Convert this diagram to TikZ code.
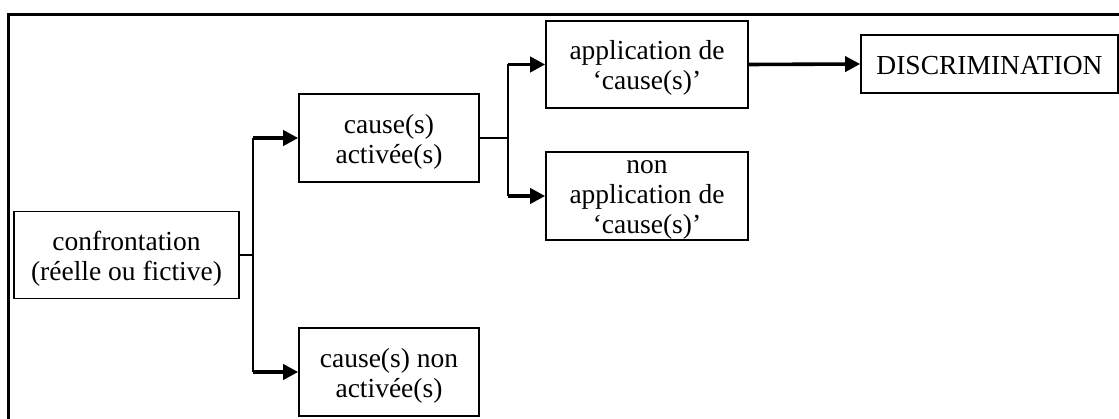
\documentclass[tikz,border=0pt]{standalone}
\usepackage{fontspec}
\setmainfont{Liberation Serif}
\usetikzlibrary{arrows.meta}
\begin{document}
\begin{tikzpicture}[x=1pt,y=-1pt,
  box/.style={draw,line width=1.6pt,inner sep=0pt,rectangle},
  txt/.style={align=center,inner sep=0pt,font=\fontsize{27.5}{30}\selectfont},
  link/.style={line width=1.6pt},
  arr/.style={line width=3.6pt,-{Triangle[length=15pt,width=15pt]}}]
\useasboundingbox (0,0) rectangle (1119,419);
% frame
\draw[line width=3pt] (8.5,419) -- (8.5,14.5) -- (1125,14.5);
% boxes
\node[box,minimum width=225pt,minimum height=87pt] (conf) at (126.5,255) {};
\node[box,minimum width=180pt,minimum height=88pt] (act) at (389,138) {};
\node[box,minimum width=180pt,minimum height=88pt] (nact) at (389,372) {};
\node[box,minimum width=202pt,minimum height=87pt] (app) at (647,64.5) {};
\node[box,minimum width=202pt,minimum height=88pt] (napp) at (647,196) {};
\node[box,minimum width=257pt,minimum height=58pt] (disc) at (989.5,64) {};
% texts
\node[txt] at (126.5,259) {confrontation\\(réelle ou fictive)};
\node[txt] at (389,142) {cause(s)\\activée(s)};
\node[txt] at (389,376) {cause(s) non\\activée(s)};
\node[txt] at (647,68) {application de\\‘cause(s)’};
\node[txt] at (647,200) {non\\application de\\‘cause(s)’};
\node[txt] at (989.5,66) {DISCRIMINATION};
% connectors
\coordinate (j1) at (253,255);
\coordinate (j2) at (508,138);
\draw[link] (conf.east) -- (j1);
\draw[link] (j1 |- act.west) -- (j1 |- nact.west);
\draw[arr] (j1 |- act.west) -- (act.west);
\draw[arr] (j1 |- nact.west) -- (nact.west);
\draw[link] (act.east) -- (j2);
\draw[link] (j2 |- app.west) -- (j2 |- napp.west);
\draw[arr] (j2 |- app.west) -- (app.west);
\draw[arr] (j2 |- napp.west) -- (napp.west);
\draw[arr] (app.east) -- (disc.west);
\end{tikzpicture}
\end{document}
